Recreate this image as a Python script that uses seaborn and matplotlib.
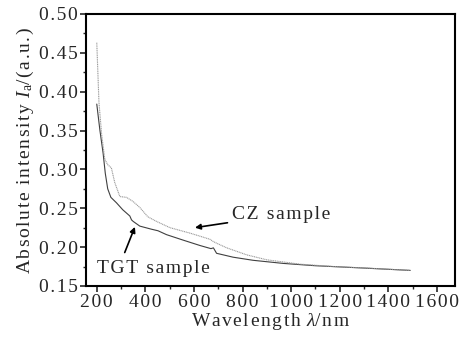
import numpy as np
import pandas as pd
import matplotlib
matplotlib.use("Agg")
import matplotlib.pyplot as plt
import seaborn as sns
from matplotlib.ticker import MultipleLocator, FuncFormatter

sns.set_style("ticks")
plt.rcParams['font.family'] = ['Liberation Serif', 'DejaVu Serif']
plt.rcParams['mathtext.fontset'] = 'custom'
plt.rcParams['mathtext.it'] = 'Liberation Serif:italic'
plt.rcParams['mathtext.rm'] = 'Liberation Serif'

# CZ sample (light dotted curve)
cz_wl = [200, 209, 220, 233, 245, 260, 274, 295, 322, 348, 377, 410, 446, 501,
         583, 625, 666, 680, 700, 735, 817, 900, 1037, 1173, 1312, 1490]
cz_int = [0.463, 0.386, 0.345, 0.313, 0.306, 0.302, 0.283, 0.265, 0.264, 0.259,
          0.251, 0.239, 0.233, 0.225, 0.218, 0.214, 0.210, 0.207, 0.204, 0.199,
          0.190, 0.1836, 0.178, 0.175, 0.173, 0.170]

# TGT sample (darker solid curve)
tgt_wl = [200, 213, 226, 235, 245, 258, 281, 307, 336, 343, 350, 377, 425, 452, 487,
          555, 625, 670, 680, 693, 761, 843, 967, 1100, 1300, 1490]
tgt_int = [0.384, 0.350, 0.321, 0.295, 0.275, 0.264, 0.257, 0.248, 0.240, 0.235, 0.233,
           0.227, 0.223, 0.221, 0.216, 0.209, 0.202, 0.198, 0.199, 0.192, 0.187,
           0.183, 0.179, 0.176, 0.173, 0.170]

HS = '\u200a'


def track(s):
    # widen letter spacing like the stretched original
    out, inmath = [], False
    for i, c in enumerate(s):
        if c == '$':
            inmath = not inmath
        out.append(c)
        if not inmath and c != '$' and i < len(s) - 1 and s[i + 1] != '$':
            out.append(HS)
    return ''.join(out)


df_cz = pd.DataFrame({'wl': cz_wl, 'I': cz_int})
df_tgt = pd.DataFrame({'wl': tgt_wl, 'I': tgt_int})

fig, ax = plt.subplots(figsize=(4.64, 3.40), dpi=100)
sns.lineplot(data=df_tgt, x='wl', y='I', ax=ax, color='#404040', lw=0.8)
sns.lineplot(data=df_cz, x='wl', y='I', ax=ax, color='#9a9a9a', lw=0.8, ls=(0, (1, 0.6)))

ax.set_xlim(155, 1675)
ax.set_ylim(0.15, 0.50)
ax.xaxis.set_major_locator(MultipleLocator(200))
ax.xaxis.set_minor_locator(MultipleLocator(100))
ax.yaxis.set_major_locator(MultipleLocator(0.05))
ax.yaxis.set_minor_locator(MultipleLocator(0.025))
ax.xaxis.set_major_formatter(FuncFormatter(lambda v, p: track('%d' % v)))
ax.yaxis.set_major_formatter(FuncFormatter(lambda v, p: track('%.2f' % v)))
ax.tick_params(which='major', direction='out', length=4, width=1.2, labelsize=14,
               top=False, right=False, pad=2)
ax.tick_params(which='minor', direction='out', length=2.5, width=1.0, top=False, right=False)
for s in ax.spines.values():
    s.set_linewidth(1.5)
    s.set_color('black')

ax.set_xlabel(track('Wavelength ') + r'$\mathit{\lambda}$' + track('/nm'), fontsize=14, labelpad=0)
ax.set_ylabel(track('Absolute intensity ') + r'$\mathit{I}_{\mathrm{a}}$' + track('/(a.u.)'),
              fontsize=14, labelpad=2)

ax.annotate(track('CZ sample'), xy=(604, 0.225), xytext=(757, 0.2417), fontsize=14,
            va='center', ha='left',
            arrowprops=dict(arrowstyle='-|>', color='black', lw=1.2, mutation_scale=8,
                            shrinkA=1, shrinkB=0))
ax.annotate('', xy=(357, 0.226), xytext=(315, 0.193),
            arrowprops=dict(arrowstyle='-|>', color='black', lw=1.2, mutation_scale=8,
                            shrinkA=0, shrinkB=0))
ax.text(200, 0.173, track('TGT sample'), fontsize=14, va='center', ha='left')

fig.subplots_adjust(left=0.185, right=0.981, top=0.959, bottom=0.159)
fig.savefig('out.png', dpi=100)
